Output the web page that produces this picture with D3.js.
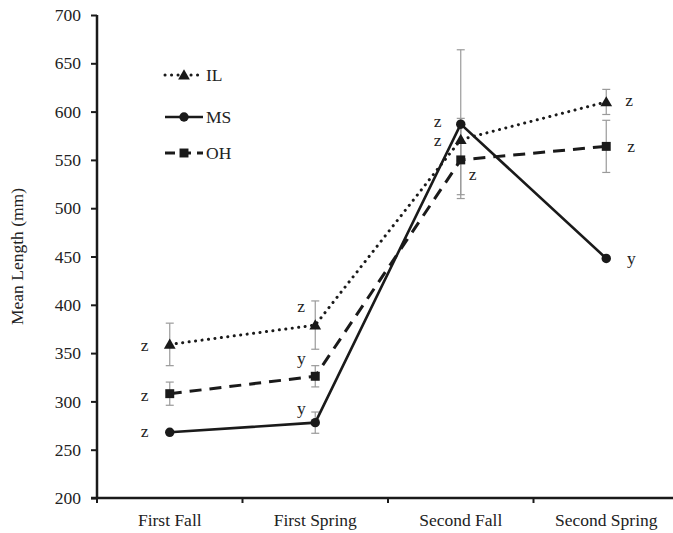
<!DOCTYPE html>
<html>
<head>
<meta charset="utf-8">
<script src="https://cdn.jsdelivr.net/npm/d3@7"></script>
<style>
  body { margin: 0; background: #fff; }
  text { font-family: "Liberation Serif", "Times New Roman", serif; fill: #222; }
</style>
</head>
<body>
<div id="container"></div>
<script>
/* DATA */
const seasons = ["First Fall", "First Spring", "Second Fall", "Second Spring"];
const yTicks = [200, 250, 300, 350, 400, 450, 500, 550, 600, 650, 700];

const ilMean = [359, 379, 571, 610];
const msMean = [268, 278, 587, 448];
const ohMean = [308, 326, 550, 564];

const ilErr = [22, 25, 22, 13];
const msErr = [0, 11, 77, 0];
const ohErr = [12, 11, 36, 27];

const ilLetters = ["z", "z", "z", "z"];
const msLetters = ["z", "y", "z", "y"];
const ohLetters = ["z", "y", "z", "z"];

/* CONSTANTS */
const width = 673, height = 533;
const margin = { top: 15, bottom: 35, left: 97, right: -6 };
const fontSize = "17.5px";

// where each letter sits relative to its point (layout only)
const letterOffsets = {
  IL: [[-25, 1], [-14, -19], [-23, 0], [23, -2]],
  MS: [[-25, -1], [-14, -15], [-23, -3], [25, 0]],
  OH: [[-25, 1], [-14, -18], [12, 14], [25, 0]]
};

const series = [
  { name: "IL", mean: ilMean, err: ilErr, letters: ilLetters, dash: "0.1 6.4", cap: "round", width: 3, marker: "triangle" },
  { name: "MS", mean: msMean, err: msErr, letters: msLetters, dash: null, cap: "butt", width: 2.6, marker: "circle" },
  { name: "OH", mean: ohMean, err: ohErr, letters: ohLetters, dash: "12 8", cap: "butt", width: 3, marker: "square" }
];

/* SCALES */
const xScale = d3.scaleBand()
  .domain(seasons)
  .range([margin.left, width - margin.right])
  .padding(0);

const yScale = d3.scaleLinear()
  .domain([200, 700])
  .range([height - margin.bottom, margin.top]);

const cx = c => xScale(c) + xScale.bandwidth() / 2;

/* SVG */
const svg = d3.select("#container")
  .append("svg")
  .attr("width", width)
  .attr("height", height);

// axes
const yAxis = d3.axisLeft(yScale).tickValues(yTicks).tickSize(6).tickPadding(10);
const gy = svg.append("g")
  .attr("transform", `translate(${margin.left},0)`)
  .call(yAxis);
gy.select(".domain").attr("stroke", "#1a1a1a").attr("stroke-width", 2.5)
  .attr("d", `M0,${yScale(700)}V${yScale(200)}`);
gy.selectAll(".tick line").attr("stroke", "#1a1a1a").attr("stroke-width", 2);
gy.selectAll(".tick text").style("font-size", fontSize).attr("fill", "#222");

const xAxis = d3.axisBottom(xScale).tickSize(0).tickPadding(16);
const gx = svg.append("g")
  .attr("transform", `translate(0,${yScale(200)})`)
  .call(xAxis);
gx.select(".domain").attr("stroke", "#1a1a1a").attr("stroke-width", 2.5)
  .attr("d", `M${margin.left - 6},0H${width + 10}`);
gx.selectAll(".tick text").style("font-size", fontSize).attr("fill", "#222");
// tick marks sit on the band edges
gx.selectAll(".band-tick")
  .data(seasons)
  .join("line")
  .attr("class", "band-tick")
  .attr("x1", d => xScale(d)).attr("x2", d => xScale(d))
  .attr("y1", 0).attr("y2", 5)
  .attr("stroke", "#1a1a1a").attr("stroke-width", 2);

// axis title
svg.append("text")
  .attr("transform", `translate(17,${(yScale(700) + yScale(200)) / 2}) rotate(-90)`)
  .attr("text-anchor", "middle")
  .attr("dominant-baseline", "central")
  .style("font-size", fontSize)
  .text("Mean Length (mm)");

// error bars
const errG = svg.append("g");
series.forEach(s => {
  seasons.forEach((c, i) => {
    if (!s.err[i]) return;
    const x = cx(c), y0 = yScale(s.mean[i] - s.err[i]), y1 = yScale(s.mean[i] + s.err[i]);
    errG.append("line").attr("x1", x).attr("x2", x).attr("y1", y0).attr("y2", y1);
    errG.append("line").attr("x1", x - 4).attr("x2", x + 4).attr("y1", y0).attr("y2", y0);
    errG.append("line").attr("x1", x - 4).attr("x2", x + 4).attr("y1", y1).attr("y2", y1);
  });
});
errG.selectAll("line").attr("stroke", "#9a9a9a").attr("stroke-width", 1.2);

// lines
const line = d3.line().x((d, i) => cx(seasons[i])).y(d => yScale(d));

series.forEach(s => {
  svg.append("path")
    .datum(s.mean)
    .attr("d", line)
    .attr("fill", "none")
    .attr("stroke", "#1a1a1a")
    .attr("stroke-width", s.width)
    .attr("stroke-linecap", s.cap)
    .attr("stroke-dasharray", s.dash);
});

// markers
const symbolType = { triangle: d3.symbolTriangle, circle: d3.symbolCircle, square: d3.symbolSquare };
const symbolSize = { triangle: 60, circle: 70, square: 80 };

function marker(g, kind, x, y) {
  g.append("path")
    .attr("d", d3.symbol().type(symbolType[kind]).size(symbolSize[kind])())
    .attr("transform", `translate(${x},${y + (kind === "triangle" ? 1 : 0)})`)
    .attr("fill", "#1a1a1a");
}

series.forEach(s => {
  const g = svg.append("g");
  s.mean.forEach((v, i) => marker(g, s.marker, cx(seasons[i]), yScale(v)));
});

// significance letters
series.forEach(s => {
  svg.append("g")
    .selectAll("text")
    .data(s.letters)
    .join("text")
    .attr("x", (d, i) => cx(seasons[i]) + letterOffsets[s.name][i][0])
    .attr("y", (d, i) => yScale(s.mean[i]) + letterOffsets[s.name][i][1])
    .attr("text-anchor", "middle")
    .attr("dominant-baseline", "central")
    .style("font-size", fontSize)
    .text(d => d);
});

// legend
const legendY = [75, 117, 153];
const legend = svg.append("g");
series.forEach((s, i) => {
  const y = legendY[i];
  legend.append("line")
    .attr("x1", 165).attr("x2", 203).attr("y1", y).attr("y2", y)
    .attr("stroke", "#1a1a1a")
    .attr("stroke-width", s.width)
    .attr("stroke-linecap", s.cap)
    .attr("stroke-dasharray", s.name === "OH" ? "10 6" : s.dash);
  marker(legend, s.marker, 184, y);
  legend.append("text")
    .attr("x", 206).attr("y", y)
    .attr("dominant-baseline", "central")
    .style("font-size", fontSize)
    .text(s.name);
});
</script>
</body>
</html>
